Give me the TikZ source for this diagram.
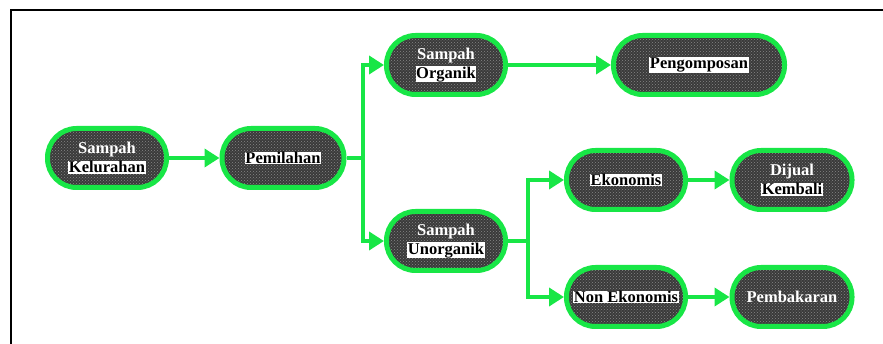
\documentclass[tikz,border=0pt]{standalone}
\usepackage{fontspec}
\setmainfont{Liberation Serif}
\usetikzlibrary{arrows.meta,patterns}
\definecolor{flowgreen}{RGB}{24,230,70}
\definecolor{boxdark}{RGB}{58,58,58}
\definecolor{boxdot}{RGB}{135,135,135}
% white strip behind a label line
\newcommand\hlt[1]{{\setlength\fboxsep{0.6pt}\colorbox{white}{\textcolor{black}{#1}}}}
\tikzset{
  stagebox/.style={draw=flowgreen, line width=5pt, rounded corners=29pt,
    preaction={fill=boxdark}, pattern=crosshatch dots, pattern color=boxdot,
    minimum height=59pt, minimum width=119pt, inner sep=0pt,
    text=white, align=center,
    font=\bfseries\fontsize{16.5}{19}\selectfont},
  flowline/.style={draw=flowgreen, line width=4.5pt},
  flowarrow/.style={flowline, -{Triangle[length=15pt,width=18pt]}},
}
\begin{document}
\begin{tikzpicture}[x=1pt,y=-1pt]
  \useasboundingbox (0,0) rectangle (883,344);
  % frame
  \draw[line width=2pt] (10.5,344) -- (10.5,10.5) -- (883,10.5);

  % stages
  \node[stagebox] (kel)   at (107,158) {Sampah\\\hlt{Kelurahan}};
  \node[stagebox, minimum width=122pt] (pem) at (283,158) {\hlt{Pemilahan}};
  \node[stagebox] (org)   at (446,65)  {Sampah\\\hlt{Organik}};
  \node[stagebox, minimum width=171pt] (peng) at (699,65) {\hlt{Pengomposan}};
  \node[stagebox] (unorg) at (446,241) {Sampah\\\hlt{Unorganik}};
  \node[stagebox] (eko)   at (626,180) {\hlt{Ekonomis}};
  \node[stagebox, minimum width=120pt] (dij) at (792,180) {Dijual\\\hlt{Kembali}};
  \node[stagebox] (non)   at (626,297) {\hlt{Non Ekonomis}};
  \node[stagebox, minimum width=120pt] (pemb) at (792,297) {Pembakaran};

  % branch points
  \coordinate (b1) at (363,158);
  \coordinate (b2) at (528,241);

  % connectors
  \draw[flowarrow] (kel) -- (pem);
  \draw[flowline] (pem.east) -- (b1);
  \draw[flowarrow] (b1) |- (org);
  \draw[flowarrow] (b1) |- (unorg);
  \draw[flowarrow] (org) -- (peng);
  \draw[flowline] (unorg.east) -- (b2);
  \draw[flowarrow] (b2) |- (eko);
  \draw[flowarrow] (b2) |- (non);
  \draw[flowarrow] (eko) -- (dij);
  \draw[flowarrow] (non) -- (pemb);
\end{tikzpicture}
\end{document}
